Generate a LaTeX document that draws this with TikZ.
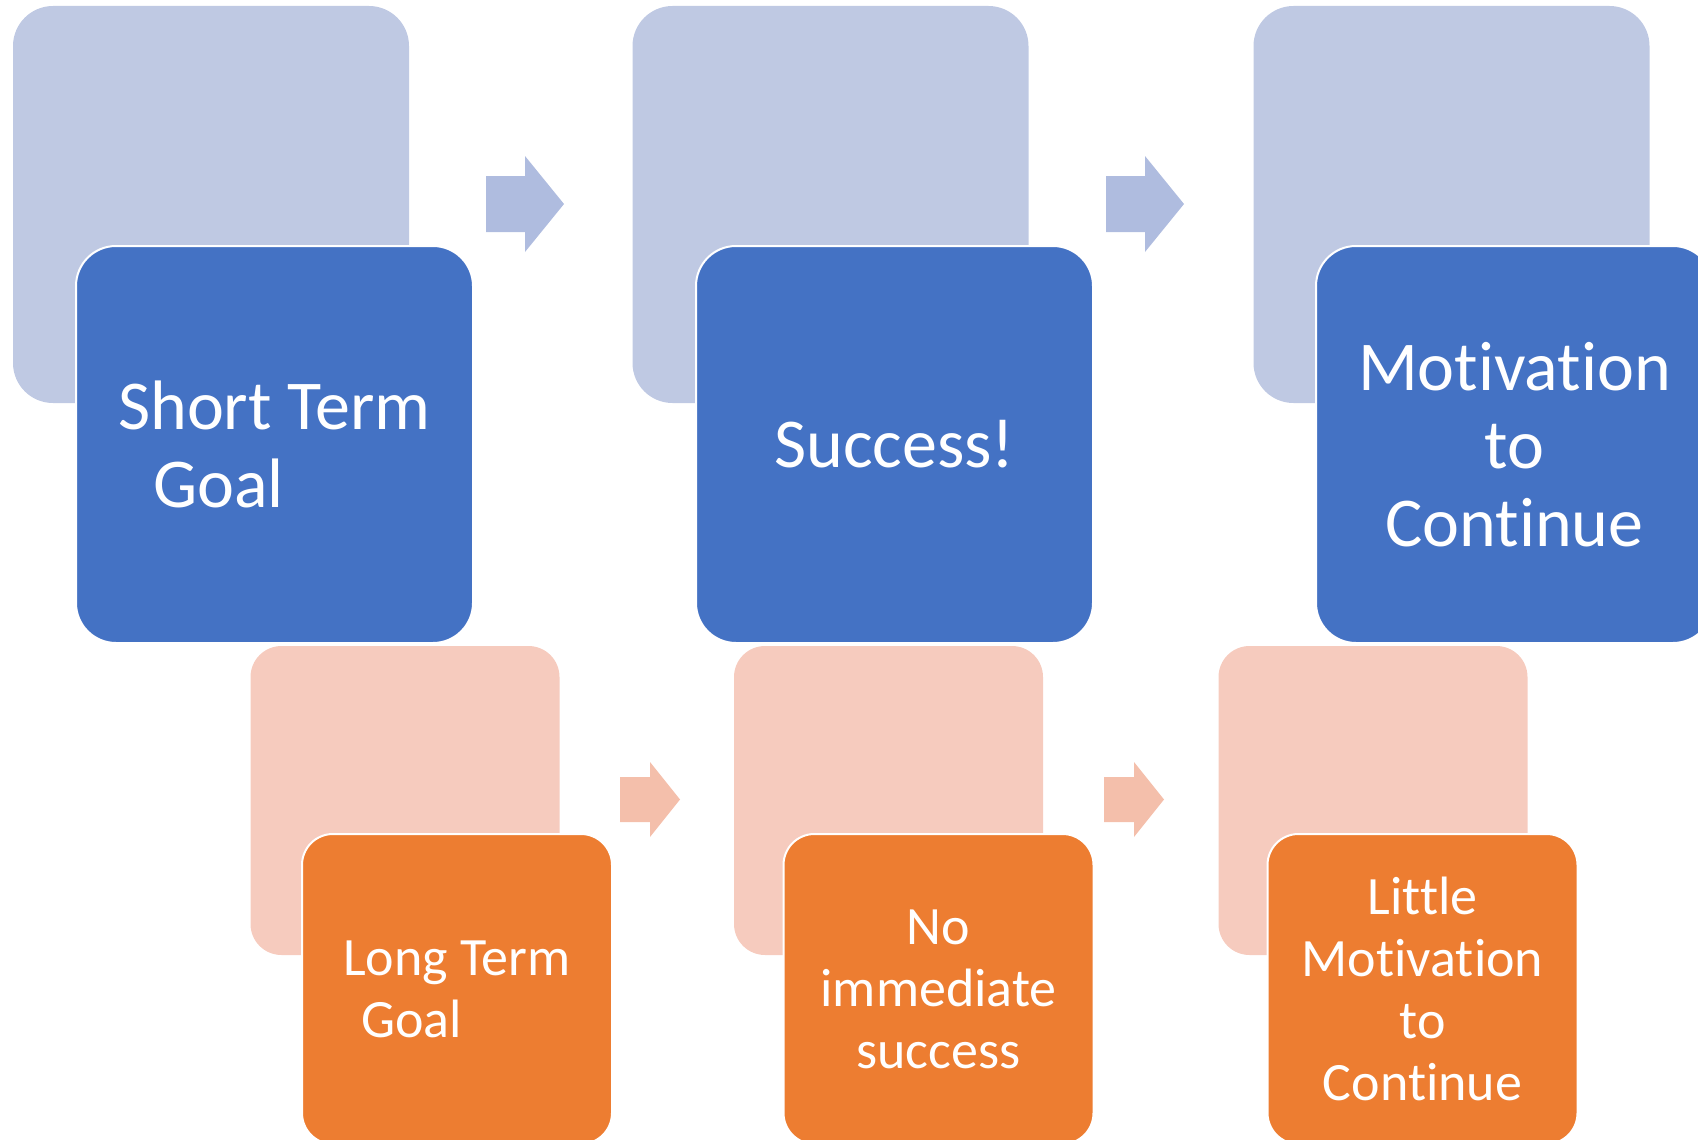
\documentclass[tikz,border=0pt]{standalone}
\usepackage{fontspec}
\setmainfont{Carlito}[Ligatures={NoCommon,NoRare,NoContextual}]
\definecolor{dkblue}{HTML}{4472C4}
\definecolor{ltblue}{HTML}{BFC9E3}
\definecolor{arblue}{HTML}{AFBCDF}
\definecolor{dkorange}{HTML}{ED7D31}
\definecolor{ltorange}{HTML}{F6CBBE}
\definecolor{arorange}{HTML}{F4BFAB}
\tikzset{
  ltbbox/.style={rectangle, rounded corners=40pt, fill=ltblue, inner sep=0pt, minimum width=396pt, minimum height=397pt},
  dkbbox/.style={rectangle, rounded corners=40pt, fill=dkblue, draw=white, line width=2pt, inner sep=0pt, minimum width=397pt, minimum height=397pt, text=white, font=\fontsize{70}{78}\selectfont},
  ltobox/.style={rectangle, rounded corners=31pt, fill=ltorange, inner sep=0pt, minimum width=309pt, minimum height=309pt},
  dkobox/.style={rectangle, rounded corners=31pt, fill=dkorange, draw=white, line width=2pt, inner sep=0pt, minimum width=310pt, minimum height=310pt, text=white, font=\fontsize{54}{62}\selectfont},
  barrow/.style={fill=arblue},
  oarrow/.style={fill=arorange}
}
\begin{document}
\begin{tikzpicture}[x=1pt,y=-1pt]
\useasboundingbox (0,0) rectangle (1698,1140);
\clip (0,0) rectangle (1698,1140);
% top row
\node[ltbbox] (lb1) at (211,204.5) {};
\node[dkbbox, align=left] (db1) at (274.5,444.5) {Short Term\\\hspace*{35pt}Goal};
\node[ltbbox] (lb2) at (830.5,204.5) {};
\node[dkbbox] (db2) at (894.5,444.5) {Success!};
\node[ltbbox] (lb3) at (1451.5,204.5) {};
\node[dkbbox, align=center] (db3) at (1514.5,444.5) {Motivation\\to\\Continue};
% bottom row
\node[ltobox] (lo1) at (405,800.5) {};
\node[dkobox, align=left] (do1) at (457,989) {Long Term\\\hspace*{18pt}Goal};
\node[ltobox] (lo2) at (888.5,800.5) {};
\node[dkobox, align=center] (do2) at (938.5,989) {No\\immediate\\success};
\node[ltobox] (lo3) at (1373,800.5) {};
\node[dkobox, align=center] (do3) at (1422.5,989) {Little\\Motivation\\to\\Continue};
% arrows (blue)
\coordinate (ba1) at (486,204);
\coordinate (ba2) at (1106,204);
\foreach \c in {ba1,ba2}{
  \fill[barrow] (\c) ++(0,-28) -- ++(39,0) -- ++(0,-20) -- ++(39,48) -- ++(-39,48) -- ++(0,-20) -- ++(-39,0) -- cycle;
}
% arrows (orange)
\coordinate (oa1) at (620,799.5);
\coordinate (oa2) at (1104,799.5);
\foreach \c in {oa1,oa2}{
  \fill[oarrow] (\c) ++(0,-22.5) -- ++(30,0) -- ++(0,-15) -- ++(30,37.5) -- ++(-30,37.5) -- ++(0,-15) -- ++(-30,0) -- cycle;
}
\end{tikzpicture}
\end{document}
